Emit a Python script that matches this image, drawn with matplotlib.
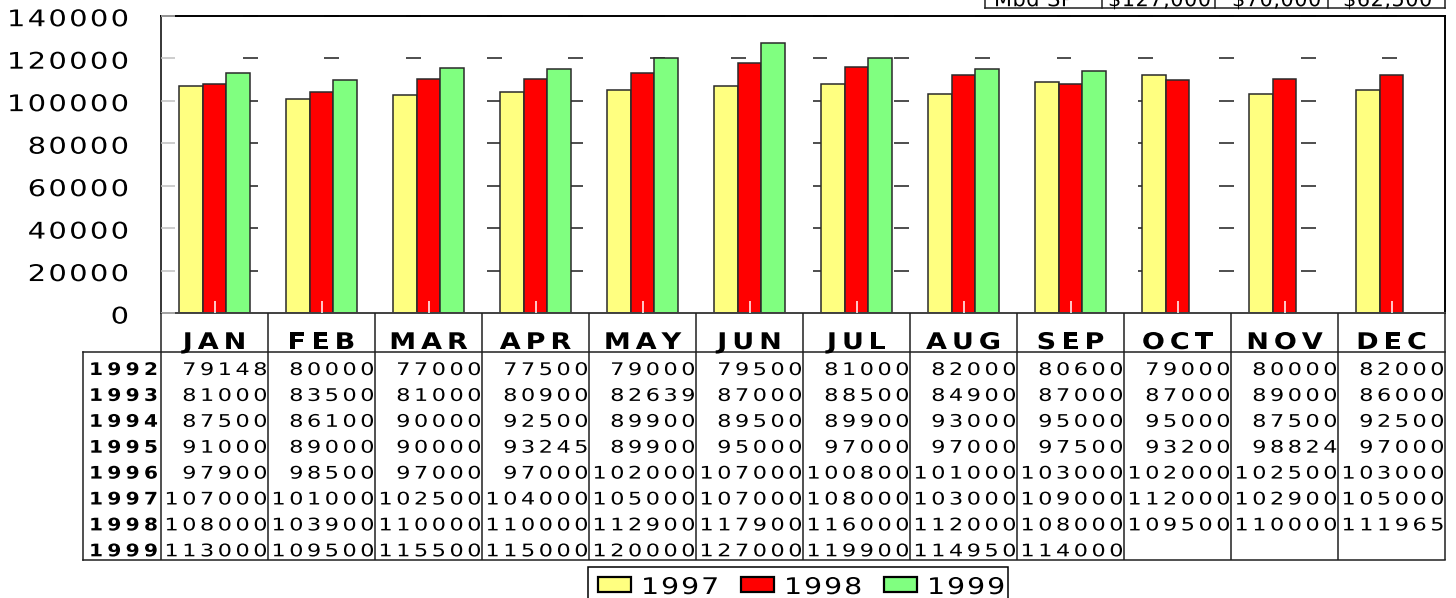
import numpy as np
import matplotlib
matplotlib.use('Agg')
import matplotlib.pyplot as plt
import matplotlib.transforms as mtransforms
from matplotlib.font_manager import FontProperties, findfont, get_font
from matplotlib.patches import Rectangle
from matplotlib.patheffects import AbstractPathEffect

# ---------------- data ----------------
months = ['JAN', 'FEB', 'MAR', 'APR', 'MAY', 'JUN', 'JUL', 'AUG', 'SEP', 'OCT', 'NOV', 'DEC']
years = ['1992', '1993', '1994', '1995', '1996', '1997', '1998', '1999']
v1992 = [79148, 80000, 77000, 77500, 79000, 79500, 81000, 82000, 80600, 79000, 80000, 82000]
v1993 = [81000, 83500, 81000, 80900, 82639, 87000, 88500, 84900, 87000, 87000, 89000, 86000]
v1994 = [87500, 86100, 90000, 92500, 89900, 89500, 89900, 93000, 95000, 95000, 87500, 92500]
v1995 = [91000, 89000, 90000, 93245, 89900, 95000, 97000, 97000, 97500, 93200, 98824, 97000]
v1996 = [97900, 98500, 97000, 97000, 102000, 107000, 100800, 101000, 103000, 102000, 102500, 103000]
v1997 = [107000, 101000, 102500, 104000, 105000, 107000, 108000, 103000, 109000, 112000, 102900, 105000]
v1998 = [108000, 103900, 110000, 110000, 112900, 117900, 116000, 112000, 108000, 109500, 110000, 111965]
v1999 = [113000, 109500, 115500, 115000, 120000, 127000, 119900, 114950, 114000]
table_rows = [v1992, v1993, v1994, v1995, v1996, v1997, v1998, v1999]

bar_years = ['1997', '1998', '1999']
bar_series = [v1997, v1998, v1999]
bar_colors = ['#FFFF80', '#FF0000', '#80FF80']
yticks = [0, 20000, 40000, 60000, 80000, 100000, 120000, 140000]
summary_labels = ['Mbd SP', '$127,000', '$70,000', '$62,500']

# ---------------- figure ----------------
FONT = 'DejaVu Sans'
plt.rcParams['font.family'] = FONT
W, H = 1456, 598
fig = plt.figure(figsize=(W / 100, H / 100), dpi=100)
fig.patch.set_facecolor('white')

ax_left, ax_right, ax_top, ax_bot = 161, 1445, 15.7, 313
ax = fig.add_axes([ax_left / W, 1 - ax_bot / H, (ax_right - ax_left) / W, (ax_bot - ax_top) / H])
x = np.arange(len(months))
bw = 0.224
for k, (vals, c, lab) in enumerate(zip(bar_series, bar_colors, bar_years)):
    n = len(vals)
    ax.bar(x[:n] + (k - 1) * bw, vals, width=bw, color=c, edgecolor='#2a2a2a',
           linewidth=1.1, label=lab, zorder=2)

ax.set_xlim(-0.5, 11.5)
ax.set_ylim(0, 140000)
ax.set_axisbelow(False)

# stray dash marks behind the bars
dash_x = 0.0697 + 0.06336 * np.arange(15)
trans = mtransforms.blended_transform_factory(ax.transAxes, ax.transData)
for yv in yticks[1:]:
    ax.hlines([yv] * len(dash_x), dash_x - 0.0058, dash_x + 0.0058, transform=trans,
              colors='#303030', linewidth=1.2, zorder=1, clip_on=False)

ax.set_xticks(x)
ax.set_xticklabels([])
ax.tick_params(axis='x', direction='in', length=8.6, width=1.1, color='white',
               bottom=True, labelbottom=False)
ax.set_yticks(yticks)
ax.set_yticklabels([])
ax.tick_params(axis='y', direction='in', length=10, width=1.1, color='#c0c0c0',
               left=True, labelleft=False)
for side, col, lw in [('left', 'black', 1.1), ('top', 'black', 1.4),
                      ('right', 'black', 1.4), ('bottom', '#404040', 1.4)]:
    ax.spines[side].set_color(col)
    ax.spines[side].set_linewidth(lw)

# ---------------- overlay (pixel coords, top origin) ----------------
ov = fig.add_axes([0, 0, 1, 1], zorder=5)
ov.set_xlim(0, W)
ov.set_ylim(H, 0)
ov.axis('off')


def px_x(xd):
    return ax.transData.transform((xd, 0))[0]


def px_y(yd):
    return H - ax.transData.transform((0, yd))[1]


class StretchX(AbstractPathEffect):
    """Widen glyphs horizontally around the text origin."""
    def __init__(self, sx):
        super().__init__()
        self.sx = sx

    def draw_path(self, renderer, gc, tpath, affine, rgbFace=None):
        renderer.draw_path(gc, tpath, mtransforms.Affine2D().scale(self.sx, 1.0) + affine,
                           rgbFace)


def advances(s, prop):
    font = get_font(findfont(prop))
    font.set_size(prop.get_size_in_points(), 100)
    out = []
    for ch in s:
        g = font.load_char(ord(ch))
        out.append(g.linearHoriAdvance / 65536.0)
    return out


def tracked(xp, yp, s, size, track, sx=1.0, ha='left', weight='normal', color='black'):
    prop = FontProperties(family=FONT, size=size, weight=weight)
    adv = [a * sx for a in advances(s, prop)]
    total = sum(adv) + track * (len(s) - 1)
    if ha == 'right':
        x0 = xp - total
    elif ha == 'center':
        x0 = xp - total / 2
    else:
        x0 = xp
    pos = x0
    for ch, a in zip(s, adv):
        if ch != ' ':
            ov.text(pos, yp, ch, fontproperties=prop, ha='left', va='baseline',
                    color=color, clip_on=False, path_effects=[StretchX(sx)])
        pos += a + track


LC = '#202020'
# y tick labels
for v in yticks:
    tracked(129, px_y(v) + 10.5, str(v), 16.5, 2.4, sx=1.26, ha='right')

# table grid
bx = [px_x(i - 0.5) for i in range(len(months) + 1)]
y0 = px_y(0)
hdr_bot, tab_bot, tab_left = 352, 559.5, 83
for xb in bx:
    ov.plot([xb, xb], [y0, tab_bot], color=LC, lw=1.1, solid_capstyle='butt')
ov.plot([tab_left, bx[-1]], [hdr_bot, hdr_bot], color=LC, lw=1.1)
ov.plot([tab_left, bx[-1]], [tab_bot, tab_bot], color=LC, lw=1.1)
ov.plot([tab_left, tab_left], [hdr_bot, tab_bot], color=LC, lw=1.1)

# header month labels
for i, m in enumerate(months):
    tracked(px_x(i), 349, m, 16.5, 5.0, sx=1.18, ha='center', weight='bold')

# table rows
for r, yr in enumerate(years):
    base = 375 + 25.9 * r
    tracked(158, base, yr, 12.5, 4.3, sx=1.16, ha='right', weight='bold')
    for i, v in enumerate(table_rows[r]):
        tracked(bx[i + 1] - 0.5, base, str(v), 12.5, 3.5, sx=1.29, ha='right')

# legend
ov.add_patch(Rectangle((588, 567), 420, 40, facecolor='white', edgecolor='black',
                       lw=1.1, clip_on=False))
for k, (lab, c) in enumerate(zip(bar_years, bar_colors)):
    lx = 598 + 143 * k
    ov.add_patch(Rectangle((lx, 577), 33, 15, facecolor=c, edgecolor='black', lw=1.6,
                           clip_on=False))
    tracked(lx + 43, 594, lab, 16.5, 2.0, sx=1.24, ha='left')

# clipped summary box at top right
sep = [985, 1102, 1215, 1328, 1445]
ov.plot([sep[0], sep[-1]], [8, 8], color=LC, lw=1.1)
for sx_ in sep:
    ov.plot([sx_, sx_], [-5, 8], color=LC, lw=1.1, clip_on=False)
text_left = [994, 1108, 1232, 1343]
for tx, lab in zip(text_left, summary_labels):
    tracked(tx, 6.2, lab, 15, 0.5, ha='left')

fig.savefig('out.png', dpi=100, facecolor='white')
